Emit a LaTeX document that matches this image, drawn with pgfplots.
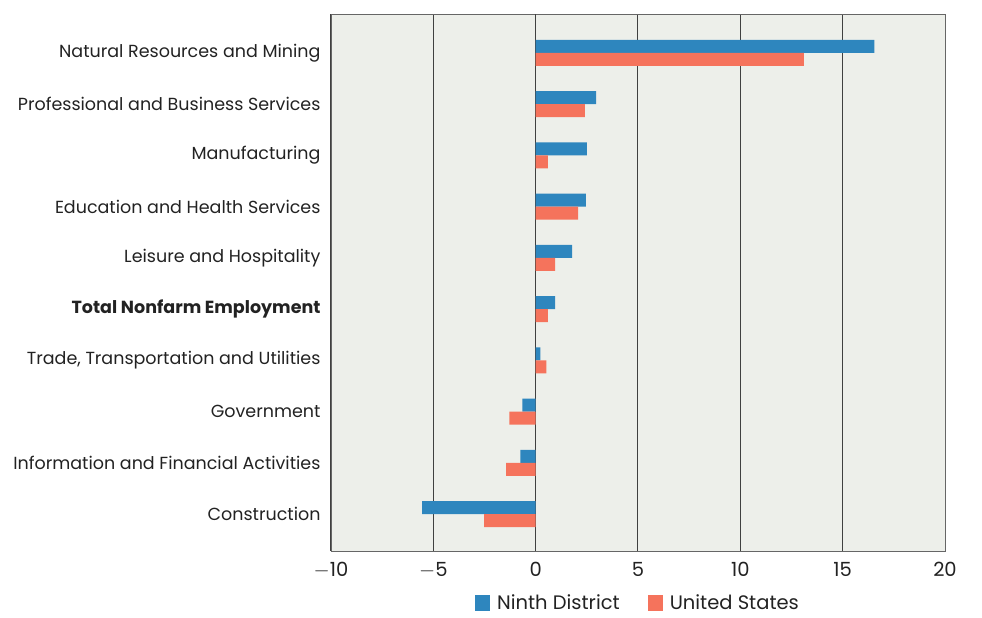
\documentclass[border=0pt]{standalone}
\usepackage{pgfplots}
\pgfplotsset{compat=1.18}
\usepackage{fontspec}
\setmainfont{Poppins}
\definecolor{bgc}{HTML}{EDEFEA}
\definecolor{blu}{HTML}{2E86BE}
\definecolor{redc}{HTML}{F5735C}
\definecolor{txt}{HTML}{222222}
\begin{document}
\begin{tikzpicture}
\path[use as bounding box] (-331pt,-67pt) rectangle (651pt,551pt);
\begin{axis}[
  at={(0,0)}, anchor=south west,
  scale only axis, width=614pt, height=537pt,
  xmin=-10, xmax=20, ymin=-0.72, ymax=9.76,
  xtick={-10,-5,0,5,10,15,20},
  xticklabels={$-$10,$-$5,0,5,10,15,20},
  ytick={0,...,9},
  yticklabels={Construction,Information and Financial Activities,Government,{Trade, Transportation and Utilities},\textbf{Total Nonfarm Employment},Leisure and Hospitality,Education and Health Services,Manufacturing,Professional and Business Services,Natural Resources and Mining},
  axis background/.style={fill=bgc},
  axis line style={draw=black!60, line width=0.8pt},
  xmajorgrids, major grid style={draw=black!75, line width=1pt},
  major tick length=0pt,
  tick label style={font=\fontsize{17.5}{20}\selectfont, text=txt},
  xticklabel style={font=\fontsize{19.5}{22}\selectfont, yshift=-8pt},
  yticklabel style={xshift=-7pt},
  xbar, bar width=13pt,
  legend style={at={(0.5,-0.097)}, anchor=center, legend columns=2, draw=none, fill=none,
    font=\fontsize{19.5}{22}\selectfont, text=txt, inner sep=1pt,
    /tikz/every odd column/.append style={column sep=5pt},
    /tikz/every even column/.append style={column sep=26pt}},
  legend image code/.code={\fill[#1] (0pt,-8pt) rectangle (15pt,8pt);},
  extra x ticks={0}, extra x tick labels={},
  extra x tick style={grid style={draw=black!90, line width=1.3pt}},
]
\addplot[fill=blu, draw=none, bar shift=6.5pt] coordinates {
(-5.55,0) (-0.75,1) (-0.65,2) (0.23,3) (0.95,4) (1.78,5) (2.45,6) (2.5,7) (2.95,8) (16.55,9)};
\addplot[fill=redc, draw=none, bar shift=-6.5pt] coordinates {
(-2.52,0) (-1.44,1) (-1.29,2) (0.52,3) (0.6,4) (0.95,5) (2.07,6) (0.6,7) (2.41,8) (13.1,9)};
\legend{Ninth District, United States}
\end{axis}
\end{tikzpicture}
\end{document}
